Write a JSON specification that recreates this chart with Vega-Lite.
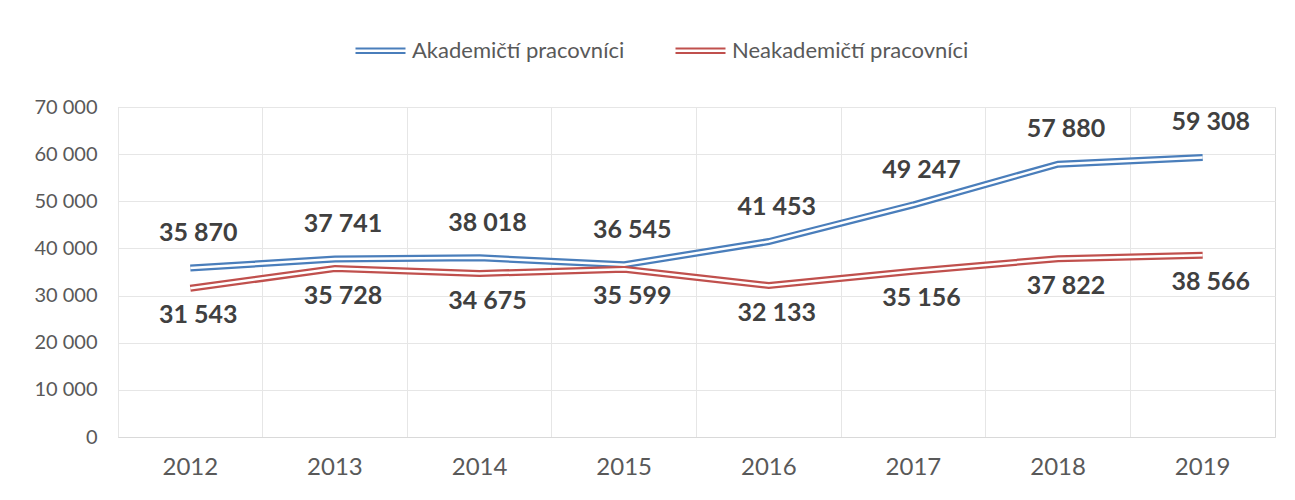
{
  "$schema": "https://vega.github.io/schema/vega-lite/v6.json",
  "width": 1157,
  "height": 330,
  "autosize": "none",
  "padding": {"left": 118, "top": 107, "right": 20, "bottom": 63},
  "background": "white",
  "config": {
    "locale": {"number": {"decimal": ",", "thousands": " ", "grouping": [3], "currency": ["", " Kč"]}},
    "font": "Lato",
    "view": {"stroke": "#d9d9d9", "strokeWidth": 1}
  },
  "data": {
    "values": [
      {"year": "2012", "series": "Akademičtí pracovníci", "value": 35870},
      {"year": "2013", "series": "Akademičtí pracovníci", "value": 37741},
      {"year": "2014", "series": "Akademičtí pracovníci", "value": 38018},
      {"year": "2015", "series": "Akademičtí pracovníci", "value": 36545},
      {"year": "2016", "series": "Akademičtí pracovníci", "value": 41453},
      {"year": "2017", "series": "Akademičtí pracovníci", "value": 49247},
      {"year": "2018", "series": "Akademičtí pracovníci", "value": 57880},
      {"year": "2019", "series": "Akademičtí pracovníci", "value": 59308},
      {"year": "2012", "series": "Neakademičtí pracovníci", "value": 31543},
      {"year": "2013", "series": "Neakademičtí pracovníci", "value": 35728},
      {"year": "2014", "series": "Neakademičtí pracovníci", "value": 34675},
      {"year": "2015", "series": "Neakademičtí pracovníci", "value": 35599},
      {"year": "2016", "series": "Neakademičtí pracovníci", "value": 32133},
      {"year": "2017", "series": "Neakademičtí pracovníci", "value": 35156},
      {"year": "2018", "series": "Neakademičtí pracovníci", "value": 37822},
      {"year": "2019", "series": "Neakademičtí pracovníci", "value": 38566}
    ]
  },
  "encoding": {
    "x": {
      "field": "year",
      "type": "ordinal",
      "bandPosition": 0.5,
      "scale": {"type": "band", "paddingInner": 0, "paddingOuter": 0},
      "axis": {
        "title": null,
        "domain": true,
        "domainColor": "#d9d9d9",
        "ticks": false,
        "grid": true,
        "gridColor": "#e6e6e6",
        "bandPosition": 0,
        "labelAngle": 0,
        "labelFontSize": 24,
        "labelColor": "#595959",
        "labelPadding": 18
      }
    },
    "y": {
      "field": "value",
      "type": "quantitative",
      "scale": {"domain": [0, 70000]},
      "axis": {
        "title": null,
        "domain": false,
        "ticks": false,
        "grid": true,
        "gridColor": "#e6e6e6",
        "values": [0, 10000, 20000, 30000, 40000, 50000, 60000, 70000],
        "format": ",d",
        "labelFontSize": 20,
        "labelColor": "#595959",
        "labelPadding": 21
      }
    }
  },
  "layer": [
    {
      "mark": {"type": "line", "strokeWidth": 7},
      "encoding": {
        "color": {
          "field": "series",
          "type": "nominal",
          "scale": {"domain": ["Akademičtí pracovníci", "Neakademičtí pracovníci"], "range": ["#4a7ebb", "#c0504d"]},
          "legend": {
            "orient": "none",
            "legendX": 236,
            "legendY": -83,
            "direction": "horizontal",
            "title": null,
            "symbolType": "M-1,-0.09L1,-0.09M-1,0.09L1,0.09",
            "symbolSize": 2500,
            "symbolStrokeWidth": 2.2,
            "labelFontSize": 22,
            "labelLimit": 0,
            "labelColor": "#595959",
            "columnPadding": 46,
            "labelOffset": 5
          }
        }
      }
    },
    {
      "mark": {"type": "line", "strokeWidth": 2.5, "color": "white"},
      "encoding": {"detail": {"field": "series", "type": "nominal"}}
    },
    {
      "transform": [{"filter": "datum.series === 'Akademičtí pracovníci'"}],
      "mark": {"type": "text", "dy": -35, "dx": 8, "fontSize": 25, "fontWeight": "bold", "color": "#404040"},
      "encoding": {"text": {"field": "value", "type": "quantitative", "format": ",d"}}
    },
    {
      "transform": [{"filter": "datum.series === 'Neakademičtí pracovníci'"}],
      "mark": {"type": "text", "dy": 27, "dx": 8, "fontSize": 25, "fontWeight": "bold", "color": "#404040"},
      "encoding": {"text": {"field": "value", "type": "quantitative", "format": ",d"}}
    }
  ]
}
